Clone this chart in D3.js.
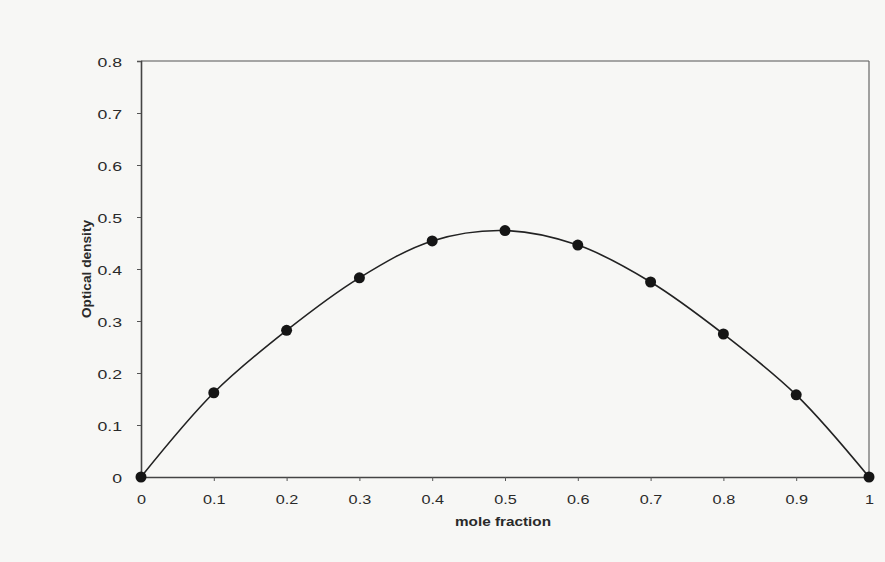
<!DOCTYPE html>
<html>
<head>
<meta charset="utf-8">
<script src="https://cdn.jsdelivr.net/npm/d3@7"></script>
<style>
  html, body { margin: 0; padding: 0; background: #f7f7f5; }
  svg { display: block; }
  text { font-family: "Liberation Sans", Arial, sans-serif; fill: #2a2a2a; }
</style>
</head>
<body>
<svg id="chart" width="885" height="562"></svg>
<script>
const moleFraction = [0, 0.1, 0.2, 0.3, 0.4, 0.5, 0.6, 0.7, 0.8, 0.9, 1.0];
const opticalDensity = [0, 0.162, 0.282, 0.383, 0.454, 0.474, 0.446, 0.375, 0.275, 0.158, 0];
const xTicks = [0, 0.1, 0.2, 0.3, 0.4, 0.5, 0.6, 0.7, 0.8, 0.9, 1];
const yTicks = [0, 0.1, 0.2, 0.3, 0.4, 0.5, 0.6, 0.7, 0.8];
const xTitle = "mole fraction";
const yTitle = "Optical density";

const svg = d3.select("#chart");
const W = 885, H = 562;
const margin = { left: 141, right: W - 869, top: 61, bottom: H - 477 };

const x = d3.scaleLinear().domain([0, 1]).range([margin.left, W - margin.right]);
const y = d3.scaleLinear().domain([0, 0.8]).range([H - margin.bottom, margin.top]);

svg.append("rect").attr("width", W).attr("height", H).attr("fill", "#f7f7f5");

// frame top/right
svg.append("line").attr("x1", x(0)).attr("x2", x(1)).attr("y1", y(0.8)).attr("y2", y(0.8))
  .attr("stroke", "#555").attr("stroke-width", 1.2);
svg.append("line").attr("x1", x(1)).attr("x2", x(1)).attr("y1", y(0.8)).attr("y2", y(0))
  .attr("stroke", "#666").attr("stroke-width", 1.2);

// axes
const fmt = d => d3.format("")(d);
const xAxis = d3.axisBottom(x).tickValues(xTicks).tickSize(4).tickPadding(14).tickFormat(fmt);
const yAxis = d3.axisLeft(y).tickValues(yTicks).tickSize(4).tickPadding(15).tickFormat(fmt);

const gx = svg.append("g").attr("transform", `translate(0,${y(0)})`).call(xAxis);
const gy = svg.append("g").attr("transform", `translate(${x(0)},0)`).call(yAxis);

[gx, gy].forEach(g => {
  g.select(".domain").attr("stroke", "#444").attr("stroke-width", 1.6);
  g.selectAll(".tick line").attr("stroke", "#555").attr("stroke-width", 1);
  g.selectAll(".tick text").attr("fill", "#333")
    .style("font-family", '"Liberation Sans", Arial, sans-serif');
});
// horizontal stretch like the scanned original
const ySx = 1.45;
gy.selectAll(".tick text").attr("font-size", 12.2)
  .attr("x", -19 / ySx).attr("dy", "0.42em").attr("transform", `scale(${ySx},1)`);
const xSx = 1.3;
gx.selectAll(".tick text").attr("font-size", 12.5).attr("transform", `scale(${xSx},1)`);

// titles
const tSx = 1.15;
svg.append("text")
  .attr("transform", `translate(${(x(0) + x(1)) / 2 - 2},525.5) scale(${tSx},1)`)
  .attr("text-anchor", "middle").attr("font-size", 13.3).attr("font-weight", "bold").text(xTitle);
svg.append("text").attr("transform", `translate(90.5,${y(0.4)}) rotate(-90)`)
  .attr("text-anchor", "middle").attr("font-size", 13.7).attr("font-weight", "bold").text(yTitle);

// curve
const data = moleFraction.map((m, i) => ({ m, v: opticalDensity[i] }));
const line = d3.line().x(d => x(d.m)).y(d => y(d.v)).curve(d3.curveCatmullRom.alpha(0.5));
svg.append("path").datum(data).attr("d", line).attr("fill", "none")
  .attr("stroke", "#222").attr("stroke-width", 1.6);

svg.selectAll("circle.pt").data(data).enter().append("circle").attr("class", "pt")
  .attr("cx", d => x(d.m)).attr("cy", d => y(d.v)).attr("r", 5.5).attr("fill", "#151515");
</script>
</body>
</html>
